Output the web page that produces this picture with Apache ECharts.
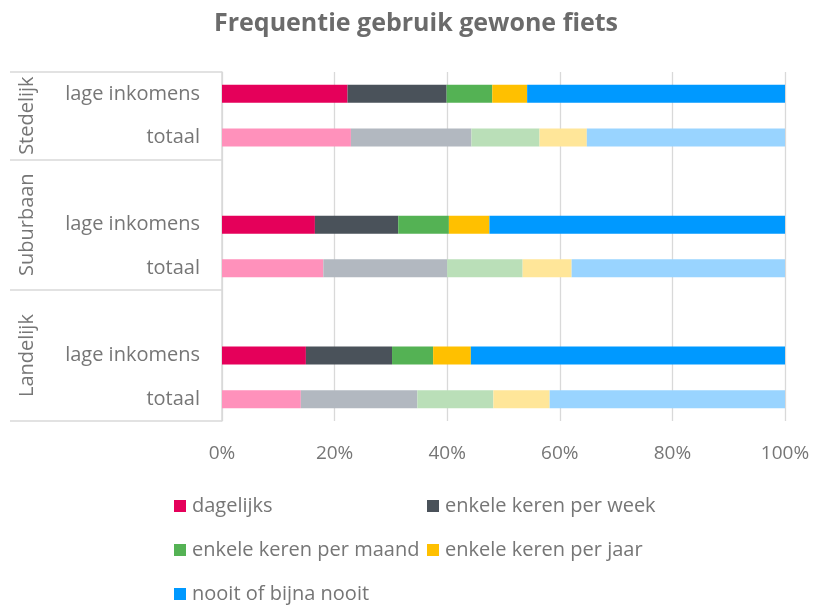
<!DOCTYPE html>
<html>
<head>
<meta charset="utf-8">
<script src="https://cdn.jsdelivr.net/npm/echarts@6/dist/echarts.min.js"></script>
<style>
html,body{margin:0;padding:0;background:#fff;}
#chart{width:817px;height:605px;}
</style>
</head>
<body>
<div id="chart"></div>
<script>
// ---- data ----
const title = 'Frequentie gebruik gewone fiets';
const groups = ['Stedelijk', 'Suburbaan', 'Landelijk'];
const groupRowCounts = [2, 3, 3];            // rows belonging to each group (incl. spacer row)
const rowLabels = ['lage inkomens', 'totaal', '', 'lage inkomens', 'totaal', '', 'lage inkomens', 'totaal'];
const seriesNames = ['dagelijks', 'enkele keren per week', 'enkele keren per maand', 'enkele keren per jaar', 'nooit of bijna nooit'];
const dagelijks = [22.3, 22.9, null, 16.5, 18.0, null, 14.9, 14.0];
const perWeek   = [17.6, 21.4, null, 14.8, 22.0, null, 15.3, 20.7];
const perMaand  = [ 8.1, 12.1, null,  9.0, 13.4, null,  7.3, 13.5];
const perJaar   = [ 6.2,  8.4, null,  7.2,  8.7, null,  6.7, 10.0];
const nooit     = [45.8, 35.2, null, 52.5, 37.9, null, 55.8, 41.8];
const xTicks = [0, 20, 40, 60, 80, 100];

// ---- styles ----
const strongColors = ['#E5005A', '#4A525A', '#54B254', '#FFC000', '#0099FF'];
const lightColors  = ['#FF91BB', '#B2B8C0', '#BADFB8', '#FFE699', '#99D4FF'];
const FONT = 'Open Sans';
const TXT = '#767676';
const GRID = '#D9D9D9';

const values = [dagelijks, perWeek, perMaand, perJaar, nooit];

// secondary (group) axis: half-row positions, boundaries and centres
const halfCount = rowLabels.length * 2;
const groupAxisData = new Array(halfCount + 1).fill('');
const boundaries = [0];
let acc = 0;
groups.forEach((g, i) => {
  const start = acc * 2;
  acc += groupRowCounts[i];
  const end = acc * 2;
  groupAxisData[Math.round((start + end) / 2)] = g;
  boundaries.push(end);
});

const series = seriesNames.map((name, si) => ({
  name,
  type: 'bar',
  stack: 'total',
  barWidth: 18,
  itemStyle: { color: strongColors[si] },
  data: values[si].map((v, ri) => ({
    value: v == null ? '-' : v,
    itemStyle: { color: rowLabels[ri] === 'totaal' ? lightColors[si] : strongColors[si] }
  }))
}));

const legendPos = [
  { left: 174, top: 496 },
  { left: 427, top: 496 },
  { left: 174, top: 540 },
  { left: 427, top: 540 },
  { left: 174, top: 584 }
];
const legends = seriesNames.map((name, i) => ({
  data: [name],
  left: legendPos[i].left,
  top: legendPos[i].top,
  icon: 'rect',
  itemWidth: 12,
  itemHeight: 12,
  itemGap: 0,
  padding: 0,
  selectedMode: false,
  textStyle: { fontFamily: FONT, fontSize: 20, color: TXT, padding: [0, 0, 0, 1] }
}));

const chart = echarts.init(document.getElementById('chart'), null, { renderer: 'canvas' });
chart.setOption({
  animation: false,
  backgroundColor: '#ffffff',
  title: {
    text: title,
    left: 214,
    top: 11,
    padding: 0,
    textStyle: { fontFamily: FONT, fontSize: 25, fontWeight: 'bold', color: '#6b6b6b' }
  },
  legend: legends,
  grid: { left: 222, right: 32, top: 72, bottom: 184, containLabel: false },
  xAxis: {
    type: 'value',
    min: xTicks[0],
    max: xTicks[xTicks.length - 1],
    interval: xTicks[1] - xTicks[0],
    axisLine: { show: false },
    axisTick: { show: false },
    splitLine: { show: true, lineStyle: { color: GRID, width: 1.3 } },
    axisLabel: { formatter: '{value}%', fontFamily: FONT, fontSize: 19, color: TXT, margin: 23 }
  },
  yAxis: [
    {
      type: 'category',
      data: rowLabels,
      inverse: true,
      position: 'left',
      axisLine: { show: true, lineStyle: { color: GRID, width: 1.5 } },
      axisTick: { show: false },
      axisLabel: { fontFamily: FONT, fontSize: 20, color: TXT, margin: 22, interval: 0 }
    },
    {
      type: 'category',
      data: groupAxisData,
      inverse: true,
      boundaryGap: false,
      position: 'left',
      offset: 0,
      axisLine: { show: false },
      axisTick: {
        show: true,
        length: 212,
        interval: (idx) => boundaries.includes(idx),
        lineStyle: { color: GRID, width: 1.5 }
      },
      axisLabel: {
        interval: 0,
        rotate: 90,
        margin: 185,
        fontFamily: FONT, fontSize: 20, color: TXT
      }
    }
  ],
  series
});
</script>
</body>
</html>
